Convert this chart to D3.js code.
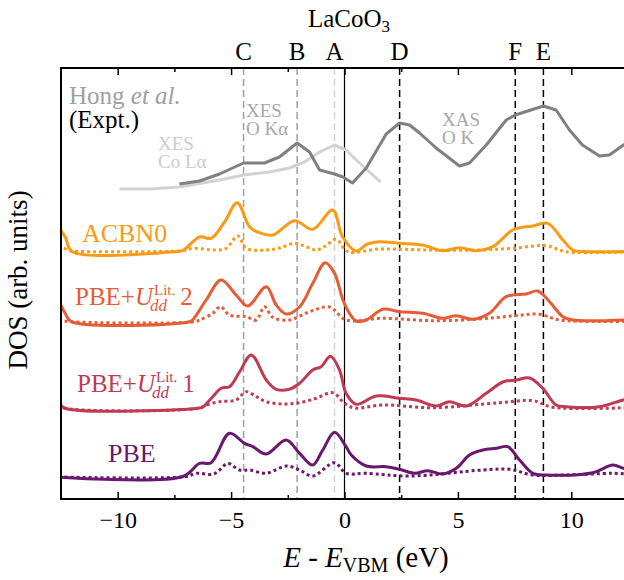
<!DOCTYPE html>
<html>
<head>
<meta charset="utf-8">
<script src="https://cdn.jsdelivr.net/npm/d3@7/dist/d3.min.js"></script>
<style>body { margin: 0; background: #fff; }</style>
</head>
<body>
<svg id="chart"></svg>
<script>
// energy (eV) vs DOS (arb. units)
const pbeTotal = [[-12.6,0],[-7.13,0.05],[-6.39,1.37],[-5.88,1.43],[-5.07,4.37],[-4.41,3.37],[-4.04,3.03],[-3.45,2.3],[-2.57,3.7],[-1.98,2.37],[-1.4,1.2],[-0.96,2.7],[-0.44,4.47],[0.07,3.03],[0.3,2.2],[0.96,1.1],[1.84,1.03],[2.43,0.77],[3.09,0.37],[3.67,0.63],[4.33,0.3],[4.93,0.87],[5.51,2.2],[6.1,2.7],[6.69,2.87],[7.2,3.03],[7.72,1.7],[8.3,0.37],[8.89,0.2],[10.95,0.43],[11.83,1.2],[12.3,0.87],[12.6,0.8]];
const pbeOp = [[-12.6,0],[-6.98,0.05],[-6.54,0.37],[-5.81,0.27],[-5.51,0.7],[-5.15,1.37],[-4.63,0.7],[-4.19,0.7],[-3.45,0.37],[-2.57,1.1],[-1.98,0.7],[-1.4,0.1],[-0.44,1.43],[0.07,0.37],[0.96,0.37],[2.87,0.1],[6.1,0.7],[7.28,0.77],[8.3,0.2],[9.78,0.2],[11.83,0.37],[12.6,0.3]];

const u1Total = [[-12.6,0.6],[-12.35,0],[-6.39,0],[-6.25,0.1],[-5.86,1.0],[-5.44,1.97],[-5.07,2.13],[-4.63,3.6],[-4.11,5.3],[-3.45,2.8],[-3.01,1.87],[-2.43,1.87],[-1.98,2.47],[-1.4,3.8],[-1.03,4.13],[-0.62,5.17],[-0.22,3.8],[0.07,1.47],[0.52,0.37],[1.4,1.2],[2.43,0.97],[3.16,0.8],[4.04,0.2],[4.63,0.63],[5.37,0.2],[6.25,1.47],[6.98,2.6],[7.57,2.8],[8.16,3.0],[8.74,1.97],[9.33,0.3],[9.78,0.13],[11.24,0.13],[12.3,0.8],[12.6,0.9]];
const u1Op = [[-12.6,0.3],[-12.4,0],[-6.39,0],[-6.1,0.3],[-5.51,0.63],[-4.78,0.8],[-4.33,1.63],[-3.89,1.13],[-3.45,0.63],[-2.72,0.4],[-1.98,0.53],[-1.25,0.97],[-0.52,1.53],[0.0,0.47],[0.44,0],[1.69,0.3],[3.89,0.03],[6.83,0.53],[8.3,0.73],[9.18,0.07],[12.6,0.05]];

const u2Total = [[-12.6,2.1],[-12.3,0.77],[-12.04,0],[-6.83,0],[-6.7,0.17],[-6.1,2.17],[-5.44,4.17],[-4.78,2.67],[-4.26,1.57],[-3.45,3.5],[-3.01,1.67],[-2.57,0.77],[-1.98,1.5],[-1.4,3.84],[-0.85,5.9],[-0.44,4.84],[-0.07,2.17],[0.22,0.84],[0.52,0.07],[0.96,0.17],[1.69,1.24],[2.43,1.0],[3.45,0.84],[4.33,0.34],[4.93,0.6],[5.66,0.24],[6.39,0.84],[7.13,2.5],[8.01,2.77],[8.52,3.07],[9.04,2.0],[9.63,0.5],[10.07,0.17],[12.6,0.2]];
const u2Op = [[-12.6,0.17],[-12.1,0],[-6.61,0],[-6.39,0.17],[-5.81,0.84],[-5.47,1.5],[-5.07,0.67],[-4.33,0.5],[-3.89,0.17],[-3.53,1.5],[-3.16,0.44],[-2.43,0.17],[-1.54,1.0],[-0.66,1.47],[0.07,0.17],[1.69,0.34],[3.89,0.1],[5.95,0.27],[7.42,0.57],[8.6,0.74],[9.48,0.17],[12.6,0.05]];

const acbnTotal = [[-12.6,2.5],[-12.3,1.4],[-12.0,0],[-7.5,0],[-7.14,0.1],[-6.39,1.47],[-5.88,1.34],[-5.29,2.97],[-4.73,4.9],[-4.19,2.5],[-3.75,1.9],[-3.16,1.67],[-2.2,3.1],[-1.4,2.24],[-0.52,4.17],[-0.09,1.5],[0.52,0.07],[1.01,0.77],[1.54,1.0],[2.43,0.84],[3.44,0.67],[4.33,0.1],[5.07,0.4],[5.8,0.1],[6.54,0.5],[7.42,2.17],[8.3,2.57],[8.96,2.84],[9.63,1.17],[10.07,0.17],[10.8,0],[12.6,0.05]];
const acbnOp = [[-12.6,0.7],[-12.2,0.17],[-11.9,0.05],[-7.5,0.05],[-7.14,0.1],[-6.69,0.34],[-5.66,0.17],[-5.22,0.34],[-4.7,1.57],[-4.33,0.34],[-3.45,0.17],[-2.87,0.37],[-2.2,0.84],[-1.69,0.5],[-1.25,0.17],[-0.84,0.57],[-0.37,1.24],[0.15,0],[1.54,0.27],[3.75,0.17],[5.95,0.17],[7.41,0.34],[8.89,0.6],[9.78,0],[12.6,0]];

// experiment (Hong et al.), absolute units
const xesOKa = [[-7.28,31.5],[-6.39,31.8],[-5.51,32.5],[-4.45,33.6],[-3.53,33.6],[-2.87,34.2],[-2.09,35.6],[-1.54,34.7],[-1.1,32.9],[-0.44,32.5],[-0.07,32.2],[0.35,31.6],[0.96,33.1],[1.84,36.5],[2.43,37.6],[2.87,37.4],[3.31,36.6],[4.04,35.1],[5.07,33.3],[5.51,33.6],[6.25,35.4],[7.13,37.9],[7.53,38.4],[8.77,39.3],[9.33,38.9],[9.92,36.9],[10.49,35.4],[11.24,34.3],[11.68,34.4],[12.3,35.4],[12.6,35.8]];
const xesCoLa = [[-9.92,31.0],[-8.6,31.0],[-7.28,31.2],[-5.51,31.9],[-4.45,32.4],[-3.31,32.7],[-2.43,33.1],[-1.76,33.7],[-1.1,34.7],[-0.44,35.4],[0.07,34.9],[0.66,33.6],[1.1,32.7],[1.59,31.7]];

const seriesNames = ["PBE", "PBE+U 1", "PBE+U 2", "ACBN0"];
const seriesTotal = [pbeTotal, u1Total, u2Total, acbnTotal];
const seriesOp = [pbeOp, u1Op, u2Op, acbnOp];
const seriesOffset = [2.2, 9.1, 17.73, 24.73];
const seriesColor = ["#6a176e", "#bf3a52", "#e65d35", "#f99b14"];

const markerLabels = ["C", "B", "A", "D", "F", "E"];
const markerEnergy = [-4.45, -2.09, -0.44, 2.43, 7.53, 8.77];
const markerColor = ["#a0a0a0", "#a0a0a0", "#d4d4d4", "#000", "#000", "#000"];

const majorTicks = [-10, -5, 0, 5, 10];
const minorTicks = [-7.5, -2.5, 2.5, 7.5];

const width = 624, height = 580;
const margin = {top: 68, left: 61, bottom: 81, right: -4};
const serifFamily = '"Liberation Serif", monospace';

const svg = d3.select("#chart").attr("width", width).attr("height", height);

const x = d3.scaleLinear().domain([-12.5, 12.5]).range([margin.left, width - margin.right]);
const y = d3.scaleLinear().domain([0, 43.1]).range([height - margin.bottom, margin.top]);

svg.append("clipPath").attr("id", "plot")
  .append("rect")
  .attr("x", x(-12.5)).attr("y", y(43.1))
  .attr("width", x(12.5) - x(-12.5)).attr("height", y(0) - y(43.1));

// marker lines
svg.append("g").selectAll("line")
  .data(markerEnergy)
  .join("line")
  .attr("x1", d => x(d)).attr("x2", d => x(d))
  .attr("y1", y(43.1)).attr("y2", y(0))
  .attr("stroke", (d, i) => markerColor[i])
  .attr("stroke-width", 1.5)
  .attr("stroke-dasharray", "7,4");

svg.append("line")
  .attr("x1", x(0)).attr("x2", x(0))
  .attr("y1", y(43.1)).attr("y2", y(0))
  .attr("stroke", "#000").attr("stroke-width", 1.2);

const line = d3.line()
  .x(d => x(d[0]))
  .curve(d3.curveCatmullRom.alpha(0.5));

const curves = svg.append("g").attr("clip-path", "url(#plot)").attr("fill", "none");

// experiment
curves.append("path")
  .attr("d", d3.line().x(d => x(d[0])).y(d => y(d[1]))(xesCoLa))
  .attr("stroke", "#d2d2d2").attr("stroke-width", 3).attr("stroke-linejoin", "round");
curves.append("path")
  .attr("d", d3.line().x(d => x(d[0])).y(d => y(d[1]))(xesOKa))
  .attr("stroke", "#808080").attr("stroke-width", 3).attr("stroke-linejoin", "round");

seriesTotal.forEach((s, i) => {
  const off = seriesOffset[i];
  curves.append("path")
    .attr("d", line.y(d => y(off + d[1]))(seriesOp[i]))
    .attr("stroke", seriesColor[i]).attr("stroke-width", 3)
    .attr("stroke-dasharray", "3,3");
  curves.append("path")
    .attr("d", line.y(d => y(off + d[1]))(s))
    .attr("stroke", seriesColor[i]).attr("stroke-width", 3)
    .attr("stroke-linejoin", "round");
});

// axes
const fmt = d => (d < 0 ? "\u2212" : "") + Math.abs(d);
const xAxis = g => g
  .attr("transform", `translate(0,${y(0)})`)
  .call(d3.axisBottom(x).tickValues(majorTicks).tickSize(-7).tickPadding(12).tickFormat(fmt))
  .call(g => g.select(".domain").remove())
  .call(g => g.selectAll("line").attr("stroke-width", 1.5))
  .call(g => g.selectAll("text").attr("font-size", 24).attr("fill", "#000")
    .style("font-family", serifFamily));
const xMinor = g => g
  .attr("transform", `translate(0,${y(0)})`)
  .call(d3.axisBottom(x).tickValues(minorTicks).tickSize(-4).tickFormat(""))
  .call(g => g.select(".domain").remove())
  .call(g => g.selectAll("line").attr("stroke-width", 1.5));
const xTop = g => g
  .attr("transform", `translate(0,${y(43.1)})`)
  .call(d3.axisTop(x).tickValues(majorTicks).tickSize(-7).tickFormat(""))
  .call(g => g.select(".domain").remove())
  .call(g => g.selectAll("line").attr("stroke-width", 1.5));
const xTopMinor = g => g
  .attr("transform", `translate(0,${y(43.1)})`)
  .call(d3.axisTop(x).tickValues(minorTicks).tickSize(-4).tickFormat(""))
  .call(g => g.select(".domain").remove())
  .call(g => g.selectAll("line").attr("stroke-width", 1.5));

svg.append("g").call(xAxis);
svg.append("g").call(xMinor);
svg.append("g").call(xTop);
svg.append("g").call(xTopMinor);

svg.append("rect")
  .attr("x", x(-12.5)).attr("y", y(43.1))
  .attr("width", x(12.5) - x(-12.5)).attr("height", y(0) - y(43.1))
  .attr("fill", "none").attr("stroke", "#000").attr("stroke-width", 2);

// new text element in the serif face
const addText = (parent, xp, yp, size) => parent.append("text")
  .attr("x", xp).attr("y", yp).attr("font-size", size)
  .style("font-family", serifFamily);

// marker letters
svg.append("g").selectAll("text")
  .data(markerLabels)
  .join("text")
  .attr("x", (d, i) => x(markerEnergy[i]))
  .attr("y", 60)
  .attr("text-anchor", "middle")
  .attr("font-size", 25)
  .style("font-family", serifFamily)
  .text(d => d);

const title = addText(svg, 349, 27, 25).attr("text-anchor", "middle");
title.append("tspan").text("LaCoO");
title.append("tspan").attr("font-size", 17).attr("dy", 5).text("3");

// axis titles
const xl = addText(svg, 366, 567, 29).attr("text-anchor", "middle");
xl.append("tspan").attr("font-style", "italic").text("E");
xl.append("tspan").text(" - ");
xl.append("tspan").attr("font-style", "italic").text("E");
xl.append("tspan").attr("font-size", 20).attr("dy", 5).text("VBM");
xl.append("tspan").attr("dy", -5).text(" (eV)");

addText(svg, 0, 0, 27)
  .attr("transform", "translate(27,280) rotate(-90)")
  .attr("text-anchor", "middle")
  .text("DOS (arb. units)");

// experiment labels
const hong = addText(svg, 69, 104, 25).attr("fill", "#a0a0a0");
hong.append("tspan").text("Hong ");
hong.append("tspan").attr("font-style", "italic").text("et al.");
addText(svg, 69, 128, 25).text("(Expt.)");

const smallLabel = (xp, yp, l1, l2, color) => {
  addText(svg, xp, yp, 19).attr("fill", color).text(l1);
  addText(svg, xp, yp + 18, 19).attr("fill", color).text(l2);
};
smallLabel(158, 150, "XES", "Co L\u03b1", "#cccccc");
smallLabel(246, 117, "XES", "O K\u03b1", "#a8a8a8");
smallLabel(442, 126, "XAS", "O K", "#a8a8a8");

// series labels
addText(svg, 82, 242, 26).attr("fill", seriesColor[3]).text(seriesNames[3]);
addText(svg, 108, 462, 26).attr("fill", seriesColor[0]).text(seriesNames[0]);

const uLabel = (xp, yp, tail, color) => {
  const g = svg.append("g").attr("fill", color);
  const t = addText(g, xp, yp, 25);
  t.append("tspan").text("PBE+");
  t.append("tspan").attr("font-style", "italic").text("U");
  const w = t.node().getComputedTextLength();
  const sup = addText(g, xp + w + 1, yp - 10, 15).text("Lit.");
  const sub = addText(g, xp + w - 3, yp + 6, 17).attr("font-style", "italic").text("dd");
  const w2 = Math.max(sup.node().getComputedTextLength(), sub.node().getComputedTextLength());
  addText(g, xp + w + w2 + 6, yp, 25).text(tail);
};
uLabel(75, 305, "2", seriesColor[2]);
uLabel(77, 392, "1", seriesColor[1]);
</script>
</body>
</html>
